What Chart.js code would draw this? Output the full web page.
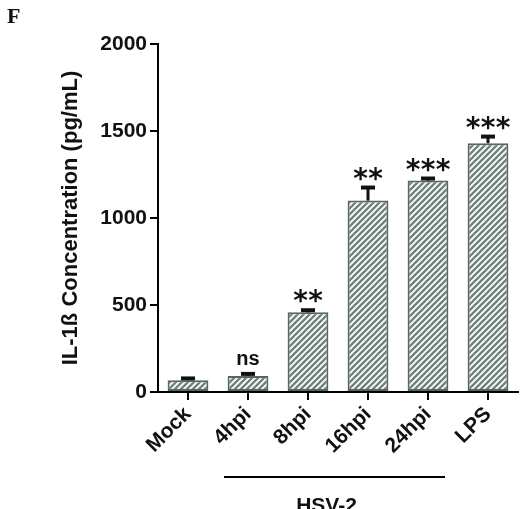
<!DOCTYPE html>
<html>
<head>
<meta charset="utf-8">
<script src="https://cdn.jsdelivr.net/npm/chart.js@4"></script>
<style>
html,body{margin:0;padding:0;background:#fff;}
canvas{display:block;}
</style>
</head>
<body>
<canvas id="c" width="522" height="509"></canvas>
<script>
const categories = ['Mock', '4hpi', '8hpi', '16hpi', '24hpi', 'LPS'];
const values = [68, 92, 458, 1100, 1215, 1430];
const errors = [10, 12, 12, 75, 12, 38];
const sigLabels = ['', 'ns', '**', '**', '***', '***'];
const yTicks = [0, 500, 1000, 1500, 2000];
const groupLabel = 'HSV-2';
const groupFrom = 1, groupTo = 4;
const panelLetter = 'F';
const yTitle = 'IL-1ß Concentration (pg/mL)';

const FONT = 'Arial, "Liberation Sans", sans-serif';

function makePattern() {
  const s = 6;
  const pc = document.createElement('canvas');
  pc.width = s; pc.height = s;
  const g = pc.getContext('2d');
  g.fillStyle = '#ffffff';
  g.fillRect(0, 0, s, s);
  g.strokeStyle = '#6f837c';
  g.lineWidth = 2.4;
  g.beginPath();
  g.moveTo(-1, s + 1); g.lineTo(s + 1, -1);
  g.moveTo(-s - 1, s + 1); g.lineTo(1, -1);
  g.moveTo(s - 1, s + 1); g.lineTo(2 * s + 1, -1);
  g.stroke();
  return g.createPattern(pc, 'repeat');
}

const ctx = document.getElementById('c').getContext('2d');

const bgPlugin = {
  id: 'bg',
  beforeDraw(chart) {
    const c = chart.ctx;
    c.save();
    c.fillStyle = '#ffffff';
    c.fillRect(0, 0, chart.width, chart.height);
    c.restore();
  }
};

const annotPlugin = {
  id: 'annot',
  afterDatasetsDraw(chart) {
    const c = chart.ctx;
    const xs = chart.scales.x, ys = chart.scales.y;
    c.save();
    c.strokeStyle = '#111';
    values.forEach((v, i) => {
      const x = xs.getPixelForValue(i);
      const y0 = ys.getPixelForValue(v);
      const y1 = ys.getPixelForValue(v + errors[i]);
      c.lineWidth = 3;
      c.beginPath();
      c.moveTo(x, y0); c.lineTo(x, y1);
      c.stroke();
      c.lineWidth = 4;
      c.beginPath();
      c.moveTo(x - 7, y1); c.lineTo(x + 7, y1);
      c.stroke();
    });
    c.fillStyle = '#111';
    c.textAlign = 'center';
    values.forEach((v, i) => {
      const lab = sigLabels[i];
      if (!lab) return;
      const x = xs.getPixelForValue(i);
      const yTop = ys.getPixelForValue(v + errors[i]);
      const yc = yTop - 14;
      if (lab === 'ns') {
        c.font = 'bold 20px ' + FONT;
        c.textBaseline = 'middle';
        c.fillText(lab, x, yc);
      } else {
        c.font = 'bold 28px "DejaVu Sans", sans-serif';
        c.textBaseline = 'alphabetic';
        const m = c.measureText('*');
        const off = (m.actualBoundingBoxAscent - m.actualBoundingBoxDescent) / 2;
        const n = lab.length, sp = 15;
        for (let k = 0; k < n; k++) {
          const xx = x + (k - (n - 1) / 2) * sp;
          c.fillText('*', xx, yc + off);
        }
      }
    });
    c.restore();
  },
  afterDraw(chart) {
    const c = chart.ctx;
    const xs = chart.scales.x;
    c.save();
    const xa = xs.getPixelForValue(groupFrom) - 24;
    const xb = xs.getPixelForValue(groupTo) + 17;
    c.strokeStyle = '#000';
    c.lineWidth = 2;
    c.beginPath();
    c.moveTo(xa, 477); c.lineTo(xb, 477);
    c.stroke();
    c.fillStyle = '#111';
    c.font = 'bold 21px ' + FONT;
    c.textAlign = 'center';
    c.textBaseline = 'top';
    c.fillText(groupLabel, (xa + xb) / 2 - 8, 496);
    c.font = 'bold 22px "Liberation Serif", "Times New Roman", serif';
    c.textAlign = 'left';
    c.textBaseline = 'top';
    c.fillText(panelLetter, 7, 6);
    c.restore();
  }
};

new Chart(ctx, {
  type: 'bar',
  data: {
    labels: categories,
    datasets: [{
      data: values,
      backgroundColor: makePattern(),
      borderColor: '#56675f',
      borderWidth: 2,
      borderSkipped: false,
      categoryPercentage: 1.0,
      barPercentage: 0.68
    }]
  },
  options: {
    responsive: false,
    animation: false,
    layout: { padding: { left: 58, right: 4, top: 44, bottom: 0 } },
    plugins: {
      legend: { display: false },
      tooltip: { enabled: false },
      title: { display: false }
    },
    scales: {
      x: {
        grid: { display: true, drawOnChartArea: false, drawTicks: true, tickLength: 8, color: '#000', lineWidth: 2, offset: false },
        border: { display: true, color: '#000', width: 2 },
        ticks: { color: '#111', minRotation: 45, maxRotation: 45, padding: 2, font: { family: FONT, size: 21, weight: 'bold' } },
        afterFit(s) { s.height = 117; }
      },
      y: {
        min: 0,
        max: 2000,
        afterBuildTicks(s) { s.ticks = yTicks.map(v => ({ value: v })); },
        grid: { display: true, drawOnChartArea: false, drawTicks: true, tickLength: 8, color: '#000', lineWidth: 2 },
        border: { display: true, color: '#000', width: 2 },
        ticks: { color: '#111', padding: 3, font: { family: FONT, size: 21, weight: 'bold' }, callback: v => String(v) },
        title: { display: true, text: yTitle, color: '#111', font: { family: FONT, size: 22, weight: 'bold' }, padding: { top: 0, bottom: 0 } },
        afterFit(s) { s.width = 100; }
      }
    }
  },
  plugins: [bgPlugin, annotPlugin]
});
</script>
</body>
</html>
